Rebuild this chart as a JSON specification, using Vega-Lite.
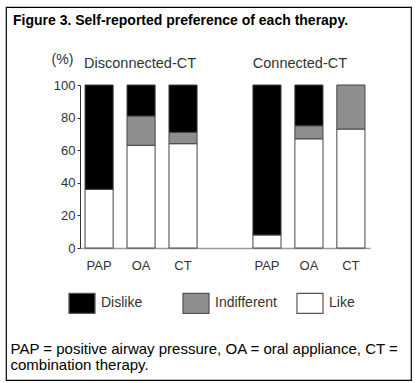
{
  "$schema": "https://vega.github.io/schema/vega-lite/v6.json",
  "width": 405,
  "height": 373,
  "autosize": {"type": "none"},
  "padding": {"left": 6, "top": 7, "right": 8, "bottom": 3},
  "background": "white",
  "config": {
    "font": "Liberation Sans",
    "view": {"stroke": "black", "strokeWidth": 1.2}
  },
  "title": {
    "text": "Figure 3. Self-reported preference of each therapy.",
    "anchor": "start",
    "frame": "group",
    "fontSize": 14,
    "fontWeight": "bold",
    "color": "black",
    "baseline": "alphabetic",
    "offset": -14,
    "dy": 18,
    "dx": 7
  },
  "datasets": {
    "bars": [
      {"bar": "D-PAP", "response": "Like", "pct": 36},
      {"bar": "D-PAP", "response": "Dislike", "pct": 64},
      {"bar": "D-OA", "response": "Like", "pct": 63},
      {"bar": "D-OA", "response": "Indifferent", "pct": 18},
      {"bar": "D-OA", "response": "Dislike", "pct": 19},
      {"bar": "D-CT", "response": "Like", "pct": 64},
      {"bar": "D-CT", "response": "Indifferent", "pct": 7},
      {"bar": "D-CT", "response": "Dislike", "pct": 29},
      {"bar": "C-PAP", "response": "Like", "pct": 8},
      {"bar": "C-PAP", "response": "Dislike", "pct": 92},
      {"bar": "C-OA", "response": "Like", "pct": 67},
      {"bar": "C-OA", "response": "Indifferent", "pct": 8},
      {"bar": "C-OA", "response": "Dislike", "pct": 25},
      {"bar": "C-CT", "response": "Like", "pct": 73},
      {"bar": "C-CT", "response": "Indifferent", "pct": 27}
    ],
    "groups": [
      {"bar": "D-OA", "group": "Disconnected-CT"},
      {"bar": "C-OA", "group": "Connected-CT"}
    ]
  },
  "layer": [
    {
      "data": {"name": "bars"},
      "mark": {"type": "bar", "stroke": "#444", "strokeWidth": 1},
      "encoding": {
        "x": {
          "field": "bar",
          "type": "nominal",
          "scale": {
            "domain": ["D-PAP", "D-OA", "D-CT", "gap", "C-PAP", "C-OA", "C-CT"],
            "range": [74, 364],
            "paddingInner": 0.33,
            "paddingOuter": 0.12
          },
          "axis": {
            "orient": "bottom",
            "offset": -132,
            "labelExpr": "datum.value == 'gap' ? '' : slice(datum.value, 2)",
            "labelAngle": 0,
            "labelFontSize": 13,
            "labelColor": "#333",
            "labelPadding": 11,
            "labelBaseline": "top",
            "ticks": false,
            "domainColor": "#999",
            "domainWidth": 1.5,
            "title": ["PAP = positive airway pressure, OA = oral appliance, CT =", "combination therapy."],
            "titleFontSize": 15,
            "titleFontWeight": "normal",
            "titleColor": "black",
            "titleAlign": "left",
            "titleAnchor": "start",
            "titleBaseline": "alphabetic",
            "titleX": 4,
            "titleY": 105,
            "titleLineHeight": 16
          }
        },
        "y": {
          "field": "pct",
          "type": "quantitative",
          "stack": "zero",
          "scale": {"domain": [0, 100], "range": [241, 78], "nice": false},
          "axis": {
            "offset": -74,
            "values": [0, 20, 40, 60, 80, 100],
            "grid": false,
            "tickSize": 3,
            "tickColor": "#333",
            "domainColor": "#333",
            "labelFontSize": 13,
            "labelColor": "#333",
            "labelPadding": 2,
            "title": "(%)",
            "titleAngle": 0,
            "titleFontSize": 14,
            "titleFontWeight": "normal",
            "titleColor": "#333",
            "titleAlign": "center",
            "titleBaseline": "middle",
            "titleX": -18,
            "titleY": 52
          }
        },
        "color": {
          "field": "response",
          "type": "nominal",
          "scale": {
            "domain": ["Dislike", "Indifferent", "Like"],
            "range": ["#000000", "#8e8e8e", "#ffffff"]
          },
          "legend": {
            "title": null,
            "orient": "none",
            "direction": "horizontal",
            "legendX": 65,
            "legendY": 285,
            "padding": 0,
            "symbolType": "M-1.3,-1H1.3V1H-1.3Z",
            "symbolSize": 400,
            "symbolStrokeColor": "#555",
            "symbolStrokeWidth": 1.2,
            "symbolOpacity": 1,
            "labelFontSize": 14,
            "labelColor": "#333",
            "labelOffset": 8,
            "columnPadding": 16,
            "gridAlign": "all"
          }
        },
        "order": {"field": "response", "sort": "descending"}
      }
    },
    {
      "data": {"name": "groups"},
      "transform": [{"filter": "datum.group == 'Disconnected-CT'"}],
      "mark": {"type": "text", "fontSize": 14.5, "color": "#333", "baseline": "middle", "dx": -1},
      "encoding": {
        "x": {"field": "bar", "type": "nominal"},
        "y": {"datum": 113},
        "text": {"field": "group"}
      }
    },
    {
      "data": {"name": "groups"},
      "transform": [{"filter": "datum.group == 'Connected-CT'"}],
      "mark": {"type": "text", "fontSize": 14.5, "color": "#333", "baseline": "middle", "dx": -9},
      "encoding": {
        "x": {"field": "bar", "type": "nominal"},
        "y": {"datum": 113},
        "text": {"field": "group"}
      }
    }
  ]
}
